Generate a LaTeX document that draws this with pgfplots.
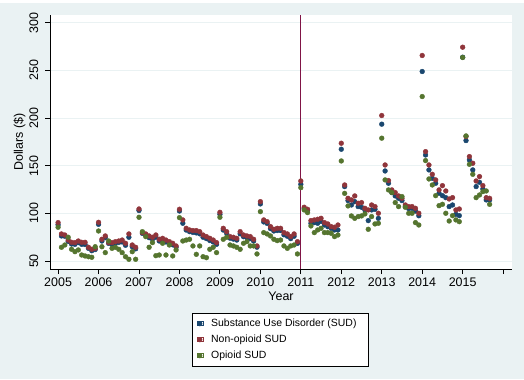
\documentclass[border=0pt]{standalone}
\usepackage{fontspec}
\setmainfont{Liberation Sans}
\usepackage{pgfplots}
\usepackage{pgfplotstable}
\pgfplotsset{compat=1.18}

\definecolor{bg}{RGB}{234,242,243}
\definecolor{navy}{RGB}{26,71,111}
\definecolor{maroonS}{RGB}{144,53,59}
\definecolor{forest}{RGB}{85,117,47}
\definecolor{vline}{RGB}{128,20,70}

% monthly averages, m = months since Jan 2005
\pgfplotstableread{
m non sud opi
0 90.3 88.0 85.4
1 78.4 76.3 64.4
2 77.3 76.0 66.8
3 72.0 70.6 74.9
4 69.6 67.8 62.3
5 69.3 67.5 59.8
6 71.0 69.3 61.6
7 69.6 67.5 56.3
8 69.6 67.3 55.3
9 64.4 63.3 54.5
10 62.3 60.8 53.9
11 63.3 62.0 65.0
12 90.6 88.5 81.5
13 72.8 71.0 65.0
14 76.3 74.5 58.8
15 69.3 68.5 71.0
16 69.3 67.5 63.3
17 70.3 68.8 64.4
18 71.0 69.5 62.3
19 72.0 70.0 58.8
20 68.6 66.5 54.5
21 78.4 74.9 51.8
22 66.8 65.0 59.8
23 64.4 62.8 51.8
24 104.6 103.0 95.9
25 79.8 79.0 80.8
26 78.4 77.0 75.6
27 76.3 74.5 64.4
28 74.9 73.0 69.3
29 77.3 75.0 55.6
30 72.8 71.0 56.3
31 73.8 72.0 68.6
32 72.0 70.0 56.3
33 70.3 68.5 66.8
34 68.6 67.0 55.3
35 65.8 64.5 61.6
36 104.3 102.5 95.5
37 93.1 89.6 71.0
38 84.3 82.5 72.0
39 82.6 80.8 72.8
40 81.9 80.0 65.8
41 81.9 79.5 57.0
42 80.8 78.5 65.8
43 77.3 75.0 54.5
44 75.6 73.5 53.5
45 73.8 71.5 62.3
46 72.0 70.0 64.4
47 69.3 67.5 58.8
48 101.1 99.0 95.9
49 84.3 82.5 72.8
50 80.8 79.0 74.9
51 75.6 74.0 66.8
52 74.9 73.0 65.8
53 73.8 72.0 64.4
54 80.8 78.5 62.3
55 77.3 75.5 68.6
56 76.3 74.5 70.3
57 75.6 73.5 65.8
58 72.8 71.0 65.8
59 65.8 64.5 57.4
60 112.3 109.9 101.8
61 93.1 91.0 79.8
62 91.3 89.5 78.4
63 86.1 84.0 76.3
64 83.3 81.5 72.8
65 84.3 82.0 71.4
66 84.3 82.0 72.0
67 79.8 77.5 65.8
68 78.4 76.0 63.3
69 75.6 73.5 65.8
70 78.4 76.0 66.8
71 70.3 68.5 57.4
72 134.0 130.5 127.0
73 106.4 105.0 103.6
74 104.3 103.0 100.8
75 92.4 89.6 86.8
76 93.1 90.3 79.8
77 93.8 89.6 82.6
78 94.8 91.5 84.3
79 90.3 87.8 79.8
80 88.9 86.0 79.8
81 86.1 84.3 79.1
82 85.4 82.6 75.6
83 87.8 82.6 77.3
84 173.6 167.3 155.0
85 129.8 128.1 121.0
86 115.8 113.4 107.8
87 114.1 108.8 97.3
88 118.3 112.3 94.8
89 110.6 107.1 96.6
90 111.3 106.4 97.3
91 105.3 103.6 99.4
92 103.6 92.4 83.3
93 108.8 103.6 96.6
94 107.1 104.3 88.9
95 100.1 94.8 89.6
96 202.7 193.6 178.9
97 150.8 144.5 135.1
98 134.4 131.6 124.6
99 124.6 121.8 121.8
100 121.8 118.3 111.3
101 118.3 115.8 107.1
102 115.8 113.4 117.6
103 108.8 107.1 106.4
104 107.1 105.0 100.1
105 107.1 105.3 100.1
106 105.3 102.5 90.3
107 100.1 97.5 87.8
108 265.7 248.9 222.6
109 164.8 161.3 155.4
110 150.8 145.6 136.1
111 141.0 136.8 129.8
112 135.1 131.6 118.6
113 124.6 121.1 108.1
114 129.1 118.6 109.5
115 123.5 116.5 100.1
116 115.1 107.1 92.0
117 116.5 108.8 97.6
118 103.6 99.0 93.1
119 104.6 97.6 91.3
120 274.4 263.9 263.6
121 180.6 176.4 181.3
122 159.6 156.1 151.5
123 152.6 145.6 141.0
124 134.0 128.1 116.5
125 138.6 132.6 119.3
126 129.1 125.6 122.8
127 116.5 114.1 123.5
128 115.8 114.1 109.5
}\sud

\begin{document}
\begin{tikzpicture}[x=1bp,y=1bp]
\path[use as bounding box] (0,0) rectangle (524,379);
\fill[white] (0,0) rectangle (524,379);
\fill[bg] (0,0) rectangle (524,376);
\begin{axis}[
    at={(50bp,110bp)}, anchor=south west,
    scale only axis, width=462bp, height=254bp,
    xmin=2004.8, xmax=2016.22, ymin=41.6, ymax=308.2,
    axis background/.style={fill=white},
    axis x line*=bottom, axis y line*=left,
    axis line style={-, black, line width=0.8bp},
    tick align=outside, major tick length=5bp,
    tick style={black, line width=0.8bp},
    xtick={2005,...,2016},
    xticklabels={2005,2006,2007,2008,2009,2010,2011,2012,2013,2014,2015,{}},
    ytick={50,100,150,200,250,300},
    yticklabels={50,100,150,200,250,300},
    yticklabel style={rotate=90, anchor=south, inner ysep=6.5bp},
    ymajorgrids, grid style={bg, line width=0.8bp},
    ticklabel style={font=\fontsize{12.5}{14}\selectfont},
    label style={font=\fontsize{12.5}{14}\selectfont},
    xlabel={Year}, ylabel={Dollars (\$)},
    xlabel style={yshift=1.5bp},
    ylabel style={yshift=-6bp},
    legend cell align=left,
    legend image code/.code={%
        \draw[#1, mark size=2.2bp] plot coordinates {(0bp,0bp)};
        \path (-3bp,-2bp) rectangle (3bp,2bp);},
    legend style={at={(0.499,-0.173)}, anchor=north,
        draw=black, line width=0.6bp, fill=white,
        font=\fontsize{10.5}{12}\selectfont,
        inner xsep=4bp, inner ysep=2.5bp, row sep=0bp,
        nodes={inner xsep=8bp, inner ysep=2.75bp, text height=8bp, text depth=2.5bp}},
    every axis plot/.append style={only marks, mark=*, mark size=2.4bp},
]
\addplot[navy, mark options={fill=navy, draw=navy}]
    table[x expr=2005+\thisrow{m}/12, y=sud] {\sud};
\addlegendentry{Substance Use Disorder (SUD)}
\addplot[maroonS, mark options={fill=maroonS, draw=maroonS}]
    table[x expr=2005+\thisrow{m}/12, y=non] {\sud};
\addlegendentry{Non-opioid SUD}
\addplot[forest, mark options={fill=forest, draw=forest}]
    table[x expr=2005+\thisrow{m}/12, y=opi] {\sud};
\addlegendentry{Opioid SUD}
\addplot[vline, line width=1bp, no marks, sharp plot, forget plot]
    coordinates {(2011,41.6) (2011,308.2)};
\end{axis}
\end{tikzpicture}
\end{document}
